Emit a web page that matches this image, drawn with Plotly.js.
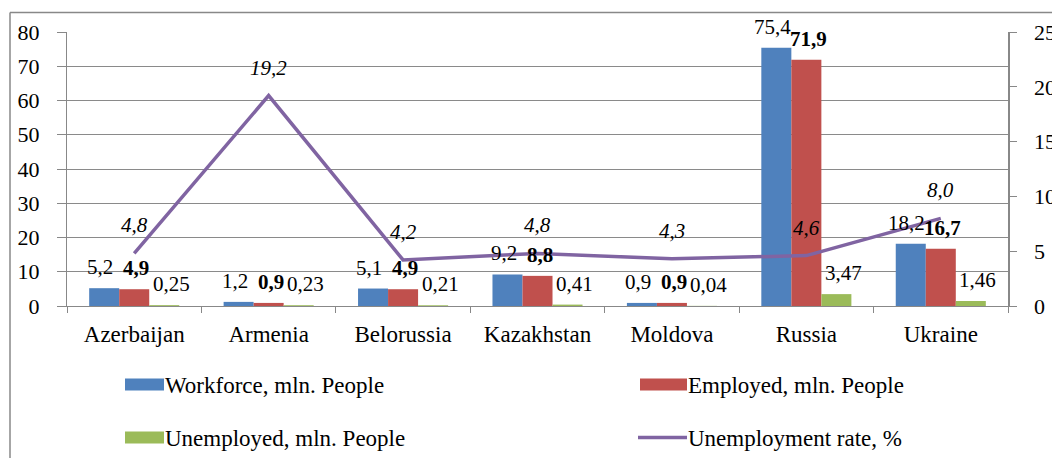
<!DOCTYPE html>
<html>
<head>
<meta charset="utf-8">
<script src="https://cdn.plot.ly/plotly-3.0.1.min.js"></script>
<style>html,body{margin:0;padding:0;background:#fff;}#chart{width:1052px;height:458px;}</style>
</head>
<body>
<div id="chart"></div>
<script>
const categories = ["Azerbaijan", "Armenia", "Belorussia", "Kazakhstan", "Moldova", "Russia", "Ukraine"];
const workforce = [5.2, 1.2, 5.1, 9.2, 0.9, 75.4, 18.2];
const employed = [4.9, 0.9, 4.9, 8.8, 0.9, 71.9, 16.7];
const unemployed = [0.25, 0.23, 0.21, 0.41, 0.04, 3.47, 1.46];
const unemploymentRate = [4.8, 19.2, 4.2, 4.8, 4.3, 4.6, 8.0];
const leftTicks = [0, 10, 20, 30, 40, 50, 60, 70, 80];
const rightTicks = [0, 5, 10, 15, 20, 25];
const seriesNames = ['Workforce, mln. People', 'Employed, mln. People', 'Unemployed, mln. People', 'Unemployment rate, %'];

const FONT = "Liberation Serif";
const comma = (v, d) => v.toFixed(d).replace('.', ',');

const traces = [
  {type: 'bar', name: seriesNames[0], x: categories, y: workforce,
   marker: {color: '#4F81BD'}, legend: 'legend', legendwidth: 478, hoverinfo: 'skip'},
  {type: 'bar', name: seriesNames[1], x: categories, y: employed,
   marker: {color: '#C0504D'}, legend: 'legend', hoverinfo: 'skip'},
  {type: 'bar', name: seriesNames[2], x: categories, y: unemployed,
   marker: {color: '#9BBB59'}, legend: 'legend2', legendwidth: 478, hoverinfo: 'skip'},
  {type: 'scatter', mode: 'lines', name: seriesNames[3], x: categories, y: unemploymentRate,
   yaxis: 'y2', line: {color: '#8064A2', width: 3.5}, legend: 'legend2', hoverinfo: 'skip'}
];

const annotations = [];
const series = [
  {vals: workforce, dec: 1, shift: -34, bold: false},
  {vals: employed, dec: 1, shift: 2, bold: true},
  {vals: unemployed, dec: 2, shift: 37, bold: false}
];
series.forEach(s => {
  s.vals.forEach((v, i) => {
    annotations.push({
      x: categories[i], y: v, xref: 'x', yref: 'y', showarrow: false,
      text: s.bold ? '<b>' + comma(v, s.dec) + '</b>' : comma(v, s.dec),
      xshift: s.shift, yshift: 21, yanchor: 'middle',
      font: {family: FONT, size: 21, color: '#000'}
    });
  });
});
unemploymentRate.forEach((v, i) => {
  annotations.push({
    x: categories[i], y: v, xref: 'x', yref: 'y2', showarrow: false,
    text: '<i>' + comma(v, 1) + '</i>', yshift: 28, yanchor: 'middle',
    font: {family: FONT, size: 21, color: '#000'}
  });
});

const layout = {
  width: 1052, height: 458,
  margin: {l: 67, r: 44, t: 32, b: 152, pad: 0},
  paper_bgcolor: '#fff', plot_bgcolor: '#fff',
  font: {family: FONT, size: 20, color: '#000'},
  barmode: 'group', bargap: 0.33, bargroupgap: 0,
  xaxis: {
    type: 'category', showline: true, linecolor: '#888', linewidth: 1,
    ticks: 'outside', tickson: 'boundaries', ticklen: 6, tickcolor: '#888',
    tickfont: {family: FONT, size: 23, color: '#000'}, ticklabelstandoff: 7,
    showgrid: false, zeroline: false, fixedrange: true
  },
  yaxis: {
    range: [0, 80], tickvals: leftTicks, ticktext: leftTicks.map(String),
    showline: true, linecolor: '#888', linewidth: 1,
    ticks: 'outside', ticklen: 9, tickcolor: '#888',
    showgrid: true, gridcolor: '#8a8a8a', gridwidth: 1, zeroline: false,
    tickfont: {family: FONT, size: 22, color: '#000'}, ticklabelstandoff: 13,
    fixedrange: true
  },
  yaxis2: {
    overlaying: 'y', side: 'right', range: [0, 25], tickvals: rightTicks, ticktext: rightTicks.map(String),
    showline: true, linecolor: '#888', linewidth: 1.5,
    ticks: 'outside', ticklen: 7, tickcolor: '#888',
    showgrid: false, zeroline: false,
    tickfont: {family: FONT, size: 22, color: '#000'}, ticklabelstandoff: 13,
    fixedrange: true
  },
  legend: {
    orientation: 'h', xref: 'container', yref: 'container', x: 125 / 1052, y: 1 - 363 / 458,
    xanchor: 'left', yanchor: 'top', font: {family: FONT, size: 23, color: '#000'},
    bgcolor: 'rgba(0,0,0,0)'
  },
  legend2: {
    orientation: 'h', xref: 'container', yref: 'container', x: 125 / 1052, y: 1 - 416 / 458,
    xanchor: 'left', yanchor: 'top', font: {family: FONT, size: 23, color: '#000'},
    bgcolor: 'rgba(0,0,0,0)'
  },
  annotations: annotations,
  shapes: [
    {type: 'line', xref: 'paper', yref: 'paper', x0: (10 - 67) / 941, x1: (1052 - 67) / 941,
     y0: (306 - 12.5) / 274, y1: (306 - 12.5) / 274, line: {color: '#888', width: 1.5}},
    {type: 'line', xref: 'paper', yref: 'paper', x0: (10 - 67) / 941, x1: (10 - 67) / 941,
     y0: (306 - 12.5) / 274, y1: (306 - 470) / 274, line: {color: '#888', width: 1.5}}
  ]
};

Plotly.newPlot('chart', traces, layout, {staticPlot: true, displayModeBar: false}).then(gd => {
  // widen legend swatches to the wide rectangles / long line of the original
  gd.querySelectorAll('.legendpoints path').forEach(p => {
    const d = p.getAttribute('d') || '';
    if (/^M6,6H-6V-6H6Z$/.test(d.replace(/\s/g, ''))) p.setAttribute('d', 'M-28,6H19V-6H-28Z');
  });
  gd.querySelectorAll('.legendlines path').forEach(p => p.setAttribute('d', 'M-10,0h49'));
});
</script>
</body>
</html>
